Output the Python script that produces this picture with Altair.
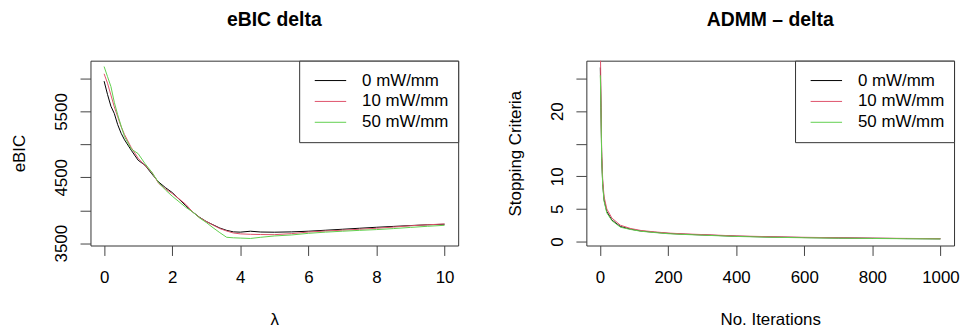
import altair as alt
import pandas as pd

FONT = "Liberation Sans"
SERIES = ["0 mW/mm", "10 mW/mm", "50 mW/mm"]
COLORS = ["#000000", "#DF536B", "#61D04F"]

# ---- eBIC panel ----
LAMBDA = [0, 0.1, 0.2, 0.3, 0.4, 0.5, 0.6, 0.8, 1.0, 1.2, 1.4, 1.6, 1.8, 2.0,
          2.2, 2.4, 2.6, 2.8, 3.0, 3.2, 3.4, 3.6, 3.8, 4.0, 4.3, 4.6, 5.0, 5.5,
          6.0, 6.5, 7.0, 7.5, 8.0, 8.5, 9.0, 9.5, 10.0]
EBIC_0 = [5961, 5760, 5580, 5470, 5300, 5170, 5070, 4910, 4760, 4685, 4555, 4430,
          4345, 4270, 4170, 4070, 3975, 3895, 3830, 3780, 3730, 3695, 3672, 3668,
          3682, 3670, 3667, 3672, 3682, 3697, 3712, 3727, 3742, 3755, 3768, 3780, 3788]
EBIC_10 = [6073, 5930, 5750, 5570, 5420, 5270, 5150, 4950, 4790, 4680, 4580, 4410,
           4325, 4255, 4175, 4090, 3975, 3890, 3830, 3775, 3722, 3685, 3655, 3642,
           3635, 3632, 3630, 3645, 3670, 3685, 3698, 3712, 3727, 3745, 3765, 3780, 3792]
EBIC_50 = [6183, 6030, 5880, 5640, 5450, 5280, 5120, 4930, 4860, 4710, 4580, 4420,
           4310, 4215, 4130, 4045, 3975, 3885, 3815, 3735, 3660, 3590, 3582, 3578,
           3572, 3590, 3610, 3625, 3650, 3668, 3682, 3695, 3707, 3722, 3740, 3757, 3772]
EBIC_TICKS = [3500, 4000, 4500, 5000, 5500, 6000]
EBIC_LABELED = [3500, 4500, 5500]
LAMBDA_TICKS = [0, 2, 4, 6, 8, 10]

# ---- ADMM panel ----
ITER = [1, 3, 5, 8, 12, 20, 35, 60, 90, 120, 160, 200, 250, 300, 400, 500,
        600, 700, 800, 900, 1000]
STOP_0 = [26.7, 20.5, 13.0, 8.9, 6.4, 4.6, 3.3, 2.3, 1.9, 1.62, 1.42, 1.25, 1.12,
          1.02, 0.82, 0.70, 0.61, 0.55, 0.50, 0.45, 0.42]
STOP_10 = [31.0, 21.5, 13.8, 9.5, 6.9, 5.0, 3.6, 2.5, 2.0, 1.70, 1.48, 1.30, 1.17,
           1.07, 0.86, 0.74, 0.65, 0.58, 0.52, 0.48, 0.44]
STOP_50 = [25.5, 20.0, 12.6, 8.6, 6.2, 4.4, 3.2, 2.2, 1.85, 1.58, 1.38, 1.20, 1.08,
           0.98, 0.78, 0.66, 0.58, 0.52, 0.47, 0.43, 0.40]
STOP_TICKS = [0, 5, 10, 15, 20, 25]
STOP_LABELED = [0, 5, 10, 20]
ITER_TICKS = [0, 200, 400, 600, 800, 1000]


def long_frame(xs, cols, xname, yname):
    rows = []
    for name, ys in zip(SERIES, cols):
        for xv, yv in zip(xs, ys):
            rows.append({xname: xv, yname: yv, "series": name})
    return pd.DataFrame(rows)


df_l = long_frame(LAMBDA, [EBIC_0, EBIC_10, EBIC_50], "lam", "ebic")
df_r = long_frame(ITER, [STOP_0, STOP_10, STOP_50], "it", "stop")

W, H = 370, 186


def legend():
    return alt.Legend(title=None, orient="top-right", offset=0, strokeColor="#333",
                      fillColor="white", padding=9.5, symbolType="stroke",
                      symbolSize=1000, symbolStrokeWidth=1, symbolOffset=5.5,
                      labelFontSize=17, labelFont=FONT, labelColor="black",
                      labelOffset=15.3, rowPadding=0, clipHeight=21,
                      cornerRadius=0)


def x_axis(values, title):
    return alt.Axis(values=values, format="d", title=title, tickSize=10,
                    labelPadding=14, labelBaseline="top", titleX=W / 2,
                    titleY=79, titleBaseline="alphabetic", titleAlign="center")


def y_axis(values, labeled, title):
    return alt.Axis(values=values, format="d", title=title,
                    labelExpr=f"indexof({labeled}, datum.value) >= 0 ? datum.label : ''",
                    labelAngle=270, labelAlign="center", labelBaseline="alphabetic",
                    tickSize=10.5, labelPadding=13.5, titleAngle=270,
                    titleAlign="center", titleBaseline="alphabetic",
                    titleX=-66, titleY=H / 2)


color = alt.Color("series:N", scale=alt.Scale(domain=SERIES, range=COLORS), legend=legend())

left = alt.Chart(df_l).mark_line(strokeWidth=1, clip=True).encode(
    x=alt.X("lam:Q", scale=alt.Scale(domain=[-0.4, 10.4], nice=False, zero=False),
            axis=x_axis(LAMBDA_TICKS, "λ")),
    y=alt.Y("ebic:Q", scale=alt.Scale(domain=[3465, 6272], nice=False, zero=False),
            axis=y_axis(EBIC_TICKS, EBIC_LABELED, "eBIC")),
    color=color,
).properties(width=W, height=H, title="eBIC delta")

right = alt.Chart(df_r).mark_line(strokeWidth=1, clip=True).encode(
    x=alt.X("it:Q", scale=alt.Scale(domain=[-40, 1040], nice=False, zero=False),
            axis=x_axis(ITER_TICKS, "No. Iterations")),
    y=alt.Y("stop:Q", scale=alt.Scale(domain=[-0.61, 27.74], nice=False, zero=False),
            axis=y_axis(STOP_TICKS, STOP_LABELED, "Stopping Criteria")),
    color=color,
).properties(width=W, height=H, title="ADMM – delta")

chart = alt.hconcat(left, right, spacing=129, bounds="flush").resolve_scale(
    color="independent").resolve_legend(color="independent").properties(
    padding={"left": 2, "top": 0, "right": 0, "bottom": 0}
).configure(font=FONT).configure_view(stroke="#333", strokeWidth=1).configure_axis(
    labelFont=FONT, labelFontSize=17, labelColor="black", titleFont=FONT,
    titleFontSize=17, titleFontWeight="normal", titleColor="black",
    tickColor="#444", tickWidth=1, domain=False, grid=False, labelFlush=False,
    labelOverlap=False
).configure_title(font=FONT, fontSize=19.5, fontWeight="bold", color="black",
                  anchor="middle", frame="group", baseline="alphabetic", offset=30)

chart.save("out.html", embed_options={"renderer": "svg", "actions": False})
